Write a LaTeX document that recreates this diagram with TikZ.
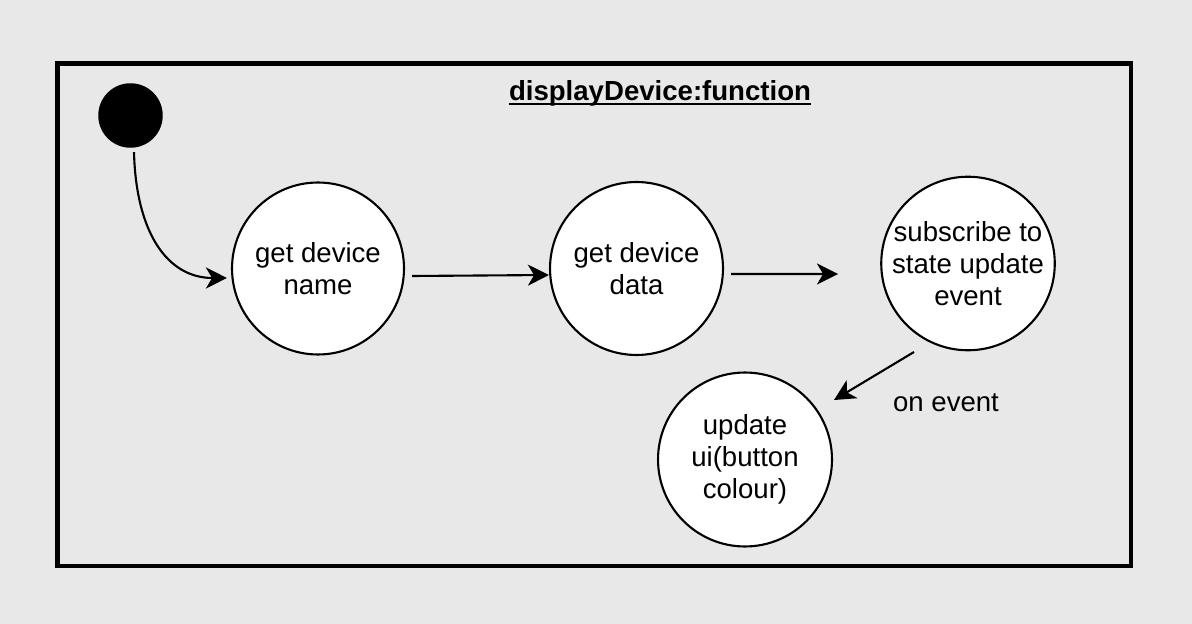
\documentclass[tikz,border=0pt]{standalone}
\usepackage{fontspec}
\setmainfont{Liberation Sans}
\usetikzlibrary{arrows.meta}
\definecolor{bg}{HTML}{E8E8E8}
\tikzset{
  state/.style={circle, draw=black, fill=white, line width=1.2pt, inner sep=0pt,
    align=center, font=\fontsize{15.7}{18.2}\selectfont},
  arr/.style={line width=1.2pt, -{Stealth[length=12pt,width=12pt,inset=3.5pt]}},
  lbl/.style={font=\fontsize{15.7}{18.2}\selectfont, inner sep=0pt},
}
\begin{document}
\begin{tikzpicture}[x=0.02cm,y=-0.02cm]
\fill[bg] (0,0) rectangle (1192,624);
\useasboundingbox (0,0) rectangle (1192,624);
\draw[line width=2.6pt] (57.5,63.5) rectangle (1131,566);
\node[lbl, font=\fontsize{15.7}{18.2}\selectfont\bfseries, anchor=base] (title) at (660,101) {displayDevice:function};
\draw[line width=1.1pt] ([shift={(0,2.8)}]title.base west) -- ([shift={(0,2.8)}]title.base east);
\node[circle, fill=black, minimum size=1.29cm, inner sep=0pt] (start) at (130.5,115.5) {};
\node[state, minimum size=3.44cm] (c1) at (318,268.5) {get device\\name};
\node[state, minimum size=3.46cm] (c2) at (636.5,268.5) {get device\\data};
\node[state, minimum size=3.44cm] (c3) at (968,263.5) {subscribe to\\state update\\event};
\node[state, minimum size=3.48cm] (c4) at (745,459.5) {update\\ui(button\\colour)};
\node[lbl] (onev) at (946,403) {on event};
\coordinate (a3end) at (838,274);
\coordinate (a4s) at (914,352);
\coordinate (a4e) at (834,400);
\draw[arr] ([shift={(3.5,4)}]start.south) .. controls +(2,80) and +(-60,0) .. ([shift={(-4,9.5)}]c1.west);
\draw[arr] ([shift={(7,7.5)}]c1.east) -- ([shift={(0,6.5)}]c2.west);
\draw[arr] ([shift={(7,5.5)}]c2.east) -- (a3end);
\draw[arr] (a4s) -- (a4e);
\end{tikzpicture}
\end{document}
